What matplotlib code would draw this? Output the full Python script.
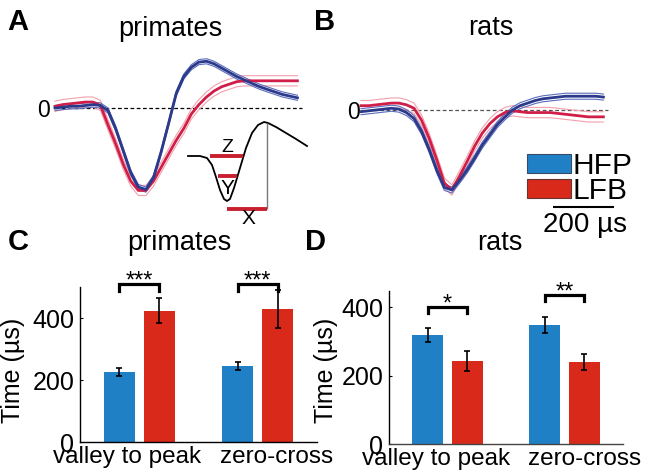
import numpy as np
import matplotlib
matplotlib.use("Agg")
import matplotlib.pyplot as plt
from matplotlib.patches import Patch

plt.rcParams['font.family'] = ['Liberation Sans', 'DejaVu Sans']

# ---- data -------------------------------------------------------------
# mean spike waveforms (normalised to trough), sampled every 25 us
t_us = np.arange(0, 801, 25)

prim_hfp = [0.00, 0.01, 0.02, 0.02, 0.03, 0.04, 0.03, -0.03, -0.24, -0.50,
            -0.76, -0.93, -0.96, -0.82, -0.52, -0.18, 0.17, 0.37, 0.48, 0.54,
            0.55, 0.52, 0.47, 0.42, 0.37, 0.33, 0.29, 0.25, 0.22, 0.19,
            0.16, 0.14, 0.12]
prim_lfb = [0.02, 0.04, 0.05, 0.06, 0.07, 0.07, 0.03, -0.20, -0.42, -0.66,
            -0.86, -0.97, -0.97, -0.86, -0.70, -0.54, -0.38, -0.24, -0.07, 0.04,
            0.13, 0.20, 0.25, 0.28, 0.31, 0.32, 0.32, 0.32, 0.32, 0.32,
            0.32, 0.32, 0.32]
rat_hfp = [-0.02, -0.01, 0.00, 0.01, 0.02, 0.01, -0.03, -0.10, -0.25, -0.46,
           -0.70, -0.90, -0.93, -0.82, -0.70, -0.56, -0.41, -0.29, -0.17, -0.08,
           0.00, 0.05, 0.08, 0.11, 0.13, 0.14, 0.15, 0.16, 0.16, 0.16,
           0.16, 0.16, 0.15]
rat_lfb = [0.05, 0.05, 0.06, 0.07, 0.08, 0.08, 0.06, 0.02, -0.12, -0.33,
           -0.58, -0.85, -0.93, -0.77, -0.60, -0.42, -0.27, -0.16, -0.08, -0.03,
           -0.01, -0.02, -0.03, -0.03, -0.03, -0.03, -0.04, -0.05, -0.06, -0.07,
           -0.08, -0.08, -0.08]
# s.e.m. band half-widths
sem_prim = (0.03, 0.06)
sem_rat = (0.035, 0.06)

# schematic waveform of the inset (arbitrary units)
inset_x = [3, 15, 22, 27, 31, 35, 39, 42, 45, 49, 55, 61, 67, 73, 79, 83, 91, 101, 111, 122]
inset_y = [74, 74, 72, 65, 53, 40, 31, 29, 31, 42, 62, 82, 97, 105, 108, 107, 103, 97, 91, 84]

# bar panels (us)
measures = ["valley to peak", "zero-cross"]
prim_hfp_bar = [226, 245]
prim_hfp_err = [13, 12]
prim_lfb_bar = [423, 429]
prim_lfb_err = [40, 62]
rat_hfp_bar = [319, 347]
rat_hfp_err = [20, 24]
rat_lfb_bar = [243, 240]
rat_lfb_err = [30, 24]
prim_stars = ["***", "***"]
rat_stars = ["*", "**"]

# ---- style ------------------------------------------------------------
W, H = 648, 476
NAVY, NAVY_BAND = "#2c3a8c", "#5a6dbc"
CRIMSON, CRIMSON_BAND = "#d11e48", "#f3a0ab"
BLUE_BAR, RED_BAR = "#1f80c6", "#d8291a"


def box(x0, y0, x1, y1):
    # pixel box (from top-left) -> figure fraction
    return [x0 / W, 1 - y1 / H, (x1 - x0) / W, (y1 - y0) / H]


fig = plt.figure(figsize=(W / 100, H / 100), dpi=100)


def waveform_panel(rect, xlim, ylim, hfp, lfb, sems, zero_color):
    ax = fig.add_axes(rect)
    ax.set_xlim(*xlim)
    ax.set_ylim(*ylim)
    ax.axis("off")
    ax.hlines(0, t_us[0], t_us[-1] + 15, colors=zero_color, lw=0.9,
              linestyles=(0, (3, 2)), zorder=1)
    for y, s, c, cb in [(lfb, sems[1], CRIMSON, CRIMSON_BAND),
                        (hfp, sems[0], NAVY, NAVY_BAND)]:
        y = np.asarray(y)
        ax.plot(t_us, y + s, color=cb, lw=0.8, zorder=2)
        ax.plot(t_us, y - s, color=cb, lw=0.8, zorder=2)
        ax.plot(t_us, y, color=c, lw=2.0, zorder=3)
    return ax


axA = waveform_panel(box(40, 35, 330, 232), (-49.5, 907.5), (-1.459, 0.859),
                     prim_hfp, prim_lfb, sem_prim, "black")
axA.text(-39.6, 0, "0", ha="center", va="center_baseline", fontsize=16.5)

axB = waveform_panel(box(345, 35, 640, 232), (-52.8, 920.7), (-1.419, 0.872),
                     rat_hfp, rat_lfb, sem_rat, "#555555")
axB.text(-26.4, 0, "0", ha="center", va="center_baseline", fontsize=16.5)
# scale bar
axB.hlines(-1.128, 634, 834, colors="black", lw=1.5, clip_on=False)
axB.text(740, -1.337, "200 µs", ha="center", va="center", fontsize=20)

# inset schematic
axI = fig.add_axes(box(185, 115, 310, 230))
axI.set_xlim(0, 125)
axI.set_ylim(0, 115)
axI.axis("off")
axI.patch.set_alpha(0)
axI.plot(inset_x, inset_y, color="black", lw=1.3)
axI.vlines(82, 21, 107, colors="#777777", lw=1.0)
axI.hlines([74, 54, 21], [25, 33, 42], [58, 52, 82], colors="#c8202f", lw=2.8)
axI.text(42, 82, "Z", ha="center", va="center", fontsize=14)
axI.text(42, 41, "Y", ha="center", va="center", fontsize=15)
axI.text(63, 11, "X", ha="center", va="center", fontsize=15)

# legend
handles = [Patch(facecolor=BLUE_BAR, edgecolor="#3a4a66", lw=0.8, label="HFP"),
           Patch(facecolor=RED_BAR, edgecolor="#663333", lw=0.8, label="LFB")]
fig.legend(handles=handles, loc="upper left",
           bbox_to_anchor=(527 / W, 1 - 152 / H), frameon=False,
           fontsize=21.5, handlelength=1.47, handleheight=0.64,
           handletextpad=0.05, labelspacing=-0.1, borderpad=0,
           borderaxespad=0)


def bar_panel(rect, ymax, hfp, hfp_err, lfb, lfb_err, stars, br_y, br_leg,
              label_x):
    ax = fig.add_axes(rect)
    g = np.arange(len(measures))
    ekw = dict(ecolor="black", elinewidth=1.2, capsize=2, capthick=1.2)
    ax.bar(g - 0.17, hfp, 0.26, yerr=hfp_err, color=BLUE_BAR,
           error_kw=ekw, zorder=2)
    ax.bar(g + 0.17, lfb, 0.26, yerr=lfb_err, color=RED_BAR,
           error_kw=ekw, zorder=2)
    ax.set_xlim(-0.5, 1.5)
    ax.set_ylim(0, ymax)
    for s in ("top", "right"):
        ax.spines[s].set_visible(False)
    ax.spines["left"].set_linewidth(1.0)
    ax.spines["bottom"].set_linewidth(1.0)
    ax.set_yticks([0, 200, 400])
    ax.tick_params(axis="y", direction="in", length=2, pad=4, labelsize=18)
    ax.set_xticks(label_x)
    ax.set_xticklabels(measures)
    ax.tick_params(axis="x", length=0, pad=3, labelsize=17.5)
    ax.set_ylabel("Time (µs)", fontsize=18)
    for gi, st, yb in zip(g, stars, br_y):
        x0, x1 = gi - 0.17, gi + 0.17
        ax.plot([x0, x0, x1, x1], [yb - br_leg, yb, yb, yb - br_leg],
                color="black", lw=2.3, clip_on=False, solid_joinstyle="miter")
        ax.annotate(st, (gi, yb), xytext=(0, -2.5), textcoords="offset points",
                    ha="center", va="baseline", fontsize=17,
                    annotation_clip=False)
    return ax


axC = bar_panel(box(80, 287, 317, 442), 500, prim_hfp_bar, prim_hfp_err,
                prim_lfb_bar, prim_lfb_err, prim_stars, [510, 510], 23,
                [-0.1, 1.16])
axC.yaxis.set_label_coords(-0.232, 0.465)

axD = bar_panel(box(389, 291, 623, 444), 447, rat_hfp_bar, rat_hfp_err,
                rat_lfb_bar, rat_lfb_err, rat_stars, [400, 436], 18,
                [-0.1, 1.17])
axD.yaxis.set_label_coords(-0.218, 0.48)
axD.spines["bottom"].set_color("#444444")

# titles and panel letters
for x, yb, s in [(170.5, 36, "primates"), (491, 35, "rats"),
                 (179, 250, "primates"), (499.5, 250, "rats")]:
    fig.text(x / W, 1 - yb / H, s, ha="center", va="baseline", fontsize=19.5)
for x, yb, s in [(7, 30, "A"), (314, 30, "B"), (8, 250, "C"), (305, 250, "D")]:
    fig.text(x / W, 1 - yb / H, s, ha="left", va="baseline", fontsize=21,
             fontweight="bold")

fig.savefig("out.png", dpi=100)
